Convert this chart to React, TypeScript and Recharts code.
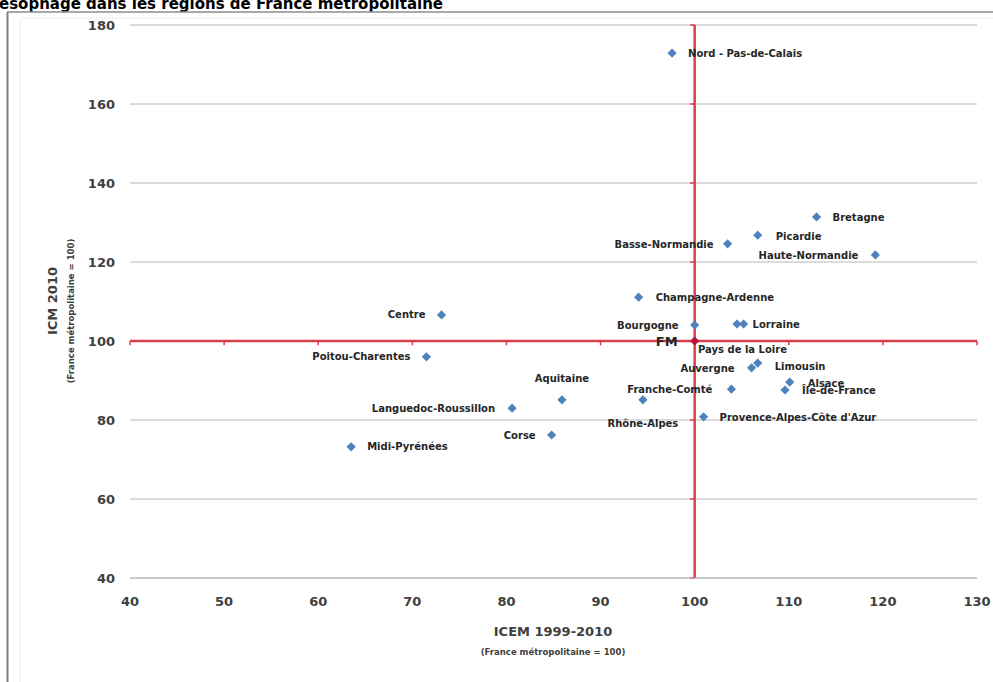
import React from "react";
import {
  ScatterChart,
  Scatter,
  XAxis,
  YAxis,
  CartesianGrid,
  ReferenceLine,
} from "recharts";

// ---- Data ----
const regions = [
  "Nord - Pas-de-Calais",
  "Bretagne",
  "Picardie",
  "Basse-Normandie",
  "Haute-Normandie",
  "Champagne-Ardenne",
  "Centre",
  "Bourgogne",
  "Pays de la Loire",
  "Lorraine",
  "Poitou-Charentes",
  "Auvergne",
  "Limousin",
  "Franche-Comté",
  "Alsace",
  "Île-de-France",
  "Aquitaine",
  "Rhône-Alpes",
  "Languedoc-Roussillon",
  "Provence-Alpes-Côte d'Azur",
  "Corse",
  "Midi-Pyrénées",
];
const icem = [
  97.6, 112.95, 106.7, 103.5, 119.2, 94.05, 73.1, 100.0, 104.5, 105.2, 71.5,
  106.05, 106.7, 103.9, 110.1, 109.6, 85.9, 94.5, 80.6, 100.95, 84.8, 63.5,
];
const icm = [
  172.9, 131.4, 126.8, 124.6, 121.8, 111.1, 106.6, 104.05, 104.3, 104.3, 96.0,
  93.2, 94.4, 87.8, 89.6, 87.6, 85.1, 85.1, 83.0, 80.8, 76.2, 73.2,
];
const fmLabel = "FM";
const fmPoint = { x: 100, y: 100 };

const xTicks = [40, 50, 60, 70, 80, 90, 100, 110, 120, 130];
const yTicks = [40, 60, 80, 100, 120, 140, 160, 180];

const titleText = "esophage dans les régions de France métropolitaine";
const xTitle = "ICEM 1999-2010";
const yTitle = "ICM 2010";
const axisSubtitle = "(France métropolitaine = 100)";

// label placement (presentation only)
const labelPlacement: Record<string, { dx: number; dy: number; anchor: string }> = {
  "Nord - Pas-de-Calais": { dx: 16, dy: 0, anchor: "start" },
  Bretagne: { dx: 16, dy: 1, anchor: "start" },
  Picardie: { dx: 18, dy: 1, anchor: "start" },
  "Basse-Normandie": { dx: -14, dy: 1, anchor: "end" },
  "Haute-Normandie": { dx: -17, dy: 1, anchor: "end" },
  "Champagne-Ardenne": { dx: 17, dy: 0, anchor: "start" },
  Centre: { dx: -16, dy: 0, anchor: "end" },
  Bourgogne: { dx: -16, dy: 0, anchor: "end" },
  "Pays de la Loire": { dx: -39, dy: 25, anchor: "start" },
  Lorraine: { dx: 9, dy: 0, anchor: "start" },
  "Poitou-Charentes": { dx: -16, dy: 0, anchor: "end" },
  Auvergne: { dx: -17, dy: 1, anchor: "end" },
  Limousin: { dx: 17, dy: 3, anchor: "start" },
  "Franche-Comté": { dx: -19, dy: 0, anchor: "end" },
  Alsace: { dx: 18, dy: 1, anchor: "start" },
  "Île-de-France": { dx: 17, dy: 1, anchor: "start" },
  Aquitaine: { dx: 0, dy: -21, anchor: "middle" },
  "Rhône-Alpes": { dx: 0, dy: 24, anchor: "middle" },
  "Languedoc-Roussillon": { dx: -17, dy: 0, anchor: "end" },
  "Provence-Alpes-Côte d'Azur": { dx: 16, dy: 1, anchor: "start" },
  Corse: { dx: -16, dy: 0, anchor: "end" },
  "Midi-Pyrénées": { dx: 16, dy: 0, anchor: "start" },
};

const data = regions.map((name, i) => ({ name, x: icem[i], y: icm[i] }));
const fmData = [{ name: fmLabel, x: fmPoint.x, y: fmPoint.y }];

const FONT = "'DejaVu Sans', Verdana, sans-serif";
const RED = "#d9404c";
const BLUE = "#4f81bd";

const diamond = (cx: number, cy: number, r: number) =>
  `${cx},${cy - r} ${cx + r},${cy} ${cx},${cy + r} ${cx - r},${cy}`;

const RegionShape = (props: any) => {
  const { cx, cy, payload } = props;
  const p = labelPlacement[payload.name] || { dx: 12, dy: 0, anchor: "start" };
  return (
    <g>
      <polygon points={diamond(cx, cy, 4.6)} fill={BLUE} />
      <text
        x={cx + p.dx}
        y={cy + p.dy}
        dy="0.35em"
        textAnchor={p.anchor as any}
        fontFamily={FONT}
        fontSize={10}
        fontWeight="bold"
        fill="#262626"
      >
        {payload.name}
      </text>
    </g>
  );
};

const FmShape = (props: any) => {
  const { cx, cy, payload } = props;
  return (
    <g>
      <polygon points={diamond(cx, cy, 4.6)} fill="#b8123a" />
      <text
        x={cx - 17}
        y={cy}
        dy="0.35em"
        textAnchor="end"
        fontFamily={FONT}
        fontSize={13}
        fontWeight="bold"
        fill="#262626"
      >
        {payload.name}
      </text>
    </g>
  );
};

export default function App() {
  return (
    <div
      style={{
        position: "absolute",
        left: 0,
        top: 0,
        width: 993,
        height: 682,
        background: "#fff",
        overflow: "hidden",
      }}
    >
      <ScatterChart
        width={993}
        height={682}
        margin={{ top: 25, right: 16, bottom: 74, left: 70 }}
        style={{ position: "absolute", left: 0, top: 0 }}
      >
        <CartesianGrid vertical={false} stroke="#b8b8b8" strokeWidth={1} />
        <XAxis
          type="number"
          dataKey="x"
          domain={[40, 130]}
          ticks={xTicks}
          height={30}
          tickSize={0}
          tickMargin={19}
          axisLine={{ stroke: "#b8b8b8" }}
          tickLine={false}
          tick={{ fill: "#404040", fontSize: 13, fontWeight: "bold", fontFamily: FONT }}
          allowDataOverflow
        />
        <YAxis
          type="number"
          dataKey="y"
          domain={[40, 180]}
          ticks={yTicks}
          width={60}
          tickSize={0}
          tickMargin={15}
          axisLine={false}
          tickLine={false}
          tick={{ fill: "#404040", fontSize: 13, fontWeight: "bold", fontFamily: FONT }}
          allowDataOverflow
        />
        <Scatter data={data} shape={RegionShape} isAnimationActive={false} />
        <ReferenceLine x={100} stroke={RED} strokeWidth={2.5} />
        <ReferenceLine y={100} stroke={RED} strokeWidth={2.5} />
        {xTicks.map((v) => (
          <ReferenceLine
            key={"xt" + v}
            segment={[
              { x: v, y: 100 },
              { x: v, y: 98.9 },
            ]}
            stroke={RED}
            strokeWidth={1.5}
          />
        ))}
        {yTicks.map((v) => (
          <ReferenceLine
            key={"yt" + v}
            segment={[
              { x: 100, y: v },
              { x: 99.5, y: v },
            ]}
            stroke={RED}
            strokeWidth={1.5}
          />
        ))}
        <Scatter data={fmData} shape={FmShape} isAnimationActive={false} />
      </ScatterChart>
      <svg
        width={993}
        height={682}
        style={{ position: "absolute", left: 0, top: 0, pointerEvents: "none" }}
      >
        <text
          x={-1}
          y={8.5}
          fontFamily={FONT}
          fontSize={15}
          fontWeight="bold"
          fill="#000"
        >
          {titleText}
        </text>
        <line x1={7.5} y1={12} x2={7.5} y2={682} stroke="#7f7f7f" strokeWidth={2} />
        <line x1={7} y1={12} x2={993} y2={12} stroke="#8c8c8c" strokeWidth={1.5} />
        <path d="M20,682 L20,24 Q20,18 26,18 L993,18" fill="none" stroke="#ececec" strokeWidth={1} />
        <text
          x={553}
          y={636}
          textAnchor="middle"
          fontFamily={FONT}
          fontSize={13}
          fontWeight="bold"
          fill="#404040"
        >
          {xTitle}
        </text>
        <text
          x={553}
          y={655}
          textAnchor="middle"
          fontFamily={FONT}
          fontSize={8.5}
          fontWeight="bold"
          fill="#404040"
        >
          {axisSubtitle}
        </text>
        <text
          transform="translate(57,301) rotate(-90)"
          textAnchor="middle"
          fontFamily={FONT}
          fontSize={13}
          fontWeight="bold"
          fill="#404040"
        >
          {yTitle}
        </text>
        <text
          transform="translate(74,311) rotate(-90)"
          textAnchor="middle"
          fontFamily={FONT}
          fontSize={8.5}
          fontWeight="bold"
          fill="#404040"
        >
          {axisSubtitle}
        </text>
      </svg>
    </div>
  );
}
